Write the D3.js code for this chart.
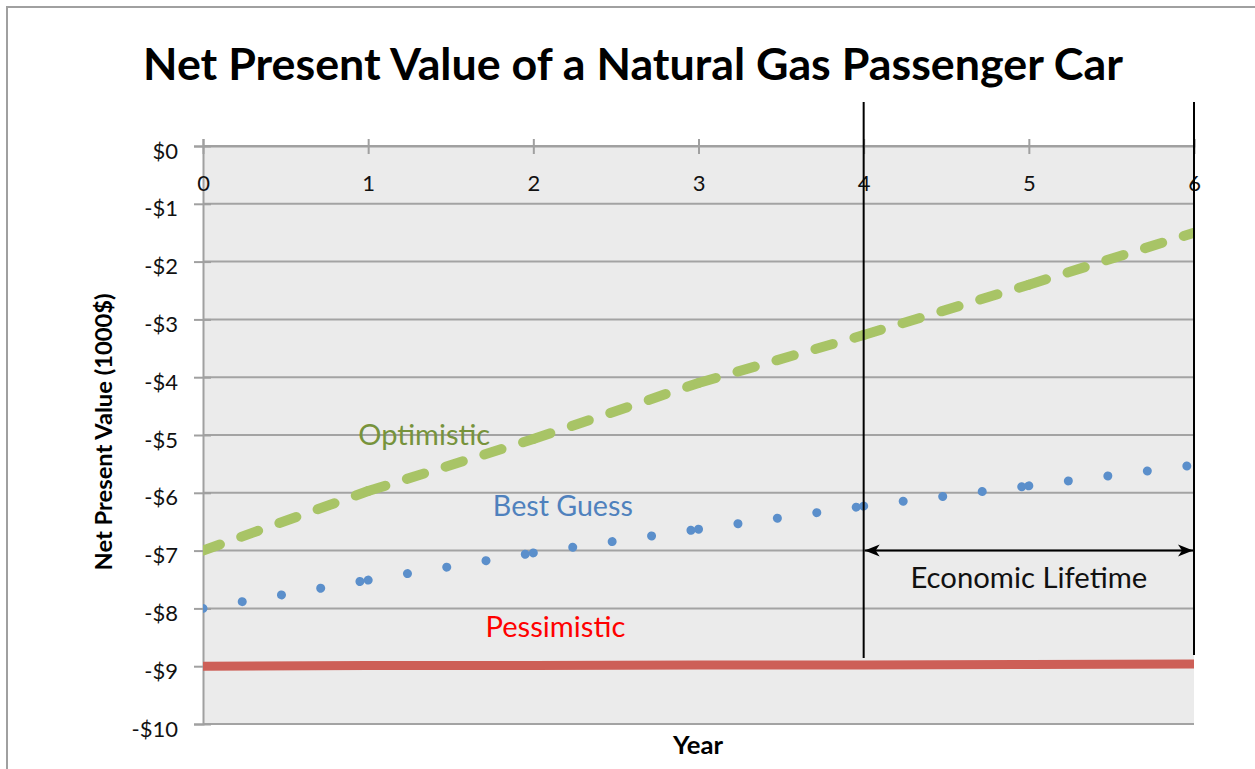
<!DOCTYPE html>
<html>
<head>
<meta charset="utf-8">
<script src="https://cdn.jsdelivr.net/npm/d3@7"></script>
<style>
  body { margin: 0; background: #fff; }
  text { font-family: Lato, "Open Sans", sans-serif; }
</style>
</head>
<body>
<div id="chart"></div>
<script>
//Data
const years = [0, 1, 2, 3, 4, 5, 6];
const optimistic = [-7.0, -5.97, -5.07, -4.1, -3.27, -2.4, -1.5];
const bestGuess = [-8.0, -7.51, -7.04, -6.63, -6.23, -5.88, -5.52];
const pessimistic = [-9.0, -8.99, -8.99, -8.98, -8.98, -8.97, -8.96];
const yTicks = [0, -1, -2, -3, -4, -5, -6, -7, -8, -9, -10];
const lifetime = [4, 6];       // years marked as economic lifetime
const lifetimeLevel = -7;      // value where the arrow sits
const seriesLabels = [
  {name: "Optimistic", year: 0.94, value: -5.17, color: "#77933c", width: 132},
  {name: "Best Guess", year: 1.755, value: -6.41, color: "#4f81bd", width: 140},
  {name: "Pessimistic", year: 1.71, value: -8.5, color: "#ff0000", width: 140}
];

//Layout
let width = 1255, height = 769,
    plot = {left: 203, right: 1194, top: 146, bottom: 724};

let svg = d3.select("#chart").append("svg")
  .attr("width", width)
  .attr("height", height);

//Outer chart border (right and bottom edges fall outside the picture)
svg.append("rect")
  .attr("x", 7).attr("y", 7)
  .attr("width", width).attr("height", height)
  .attr("fill", "none").attr("stroke", "#a0a0a0").attr("stroke-width", 2);

let x = d3.scaleLinear().domain([0, 6]).range([plot.left, plot.right]);
let y = d3.scaleLinear().domain([0, -10]).range([plot.top, plot.bottom]);

//Plot background
svg.append("rect")
  .attr("x", plot.left).attr("y", plot.top)
  .attr("width", plot.right - plot.left).attr("height", plot.bottom - plot.top)
  .attr("fill", "#ebebeb");

svg.append("clipPath").attr("id", "clip")
  .append("rect")
  .attr("x", plot.left).attr("y", plot.top - 10)
  .attr("width", plot.right - plot.left).attr("height", plot.bottom - plot.top + 20);

//Gridlines
svg.append("g").selectAll("line")
  .data(yTicks)
  .enter().append("line")
    .attr("x1", plot.left).attr("x2", plot.right)
    .attr("y1", d => y(d)).attr("y2", d => y(d))
    .attr("stroke", "#a3a3a3").attr("stroke-width", 2);

//Fits a text element to a target width by scaling its font size
function fitText(sel, target) {
  let w = sel.node().getComputedTextLength();
  let fs = parseFloat(sel.attr("font-size"));
  sel.attr("font-size", fs * target / w);
}

//Y axis (cross ticks)
let yAxis = svg.append("g")
  .attr("transform", "translate(" + plot.left + ",0)")
  .call(d3.axisLeft(y).tickValues(yTicks).tickSize(9)
    .tickFormat(d => d === 0 ? "$0" : "-$" + (-d)));
yAxis.select(".domain").attr("stroke", "#a0a0a0").attr("stroke-width", 2);
yAxis.selectAll(".tick line").attr("x1", 8).attr("x2", -9).attr("stroke", "#a0a0a0").attr("stroke-width", 2);
yAxis.selectAll(".tick text")
  .attr("x", -25).attr("dy", "0.55em")
  .attr("font-size", 22).attr("fill", "#111")
  .style("font-family", "Lato, sans-serif");

//X axis along the $0 line, labels below it
let xAxis = svg.append("g")
  .attr("transform", "translate(0," + plot.top + ")")
  .call(d3.axisTop(x).tickValues(years).tickSize(7).tickFormat(d3.format("d")));
xAxis.select(".domain").attr("stroke", "#a0a0a0").attr("stroke-width", 2);
xAxis.selectAll(".tick line").attr("y1", -7).attr("y2", 8).attr("stroke", "#a0a0a0").attr("stroke-width", 2);
xAxis.selectAll(".tick text")
  .attr("y", 37).attr("dy", "0.35em")
  .attr("font-size", 22).attr("fill", "#111")
  .style("font-family", "Lato, sans-serif");

//Series: each yearly segment drawn on its own so the dash pattern restarts at every point
function segments(values) {
  return d3.pairs(years.map((yr, i) => [yr, values[i]]));
}
let line = d3.line().x(d => x(d[0])).y(d => y(d[1]));
let series = svg.append("g").attr("clip-path", "url(#clip)");

series.selectAll(".pess")
  .data([years.map((yr, i) => [yr, pessimistic[i]])])
  .enter().append("path")
    .attr("class", "pess")
    .attr("d", line)
    .attr("fill", "none").attr("stroke", "#cd5f57").attr("stroke-width", 9);

series.selectAll(".best")
  .data(segments(bestGuess))
  .enter().append("path")
    .attr("class", "best")
    .attr("d", line)
    .attr("fill", "none").attr("stroke", "#5b8fcb").attr("stroke-width", 9)
    .attr("stroke-linecap", "round").attr("stroke-dasharray", "0.01 39.8");

series.selectAll(".opt")
  .data(segments(optimistic))
  .enter().append("path")
    .attr("class", "opt")
    .attr("d", line)
    .attr("fill", "none").attr("stroke", "#a8c466").attr("stroke-width", 10)
    .attr("stroke-linecap", "round").attr("stroke-dasharray", "18 22.6");

//Series labels
seriesLabels.forEach(function(l) {
  let t = svg.append("text")
    .attr("x", x(l.year)).attr("y", y(l.value))
    .attr("font-size", 26).attr("fill", l.color)
    .text(l.name);
  fitText(t, l.width);
});

//Economic lifetime markers
svg.selectAll(".life")
  .data(lifetime)
  .enter().append("line")
    .attr("class", "life")
    .attr("x1", d => x(d)).attr("x2", d => x(d))
    .attr("y1", 102).attr("y2", d => d === 6 ? 655 : 658)
    .attr("stroke", "#000").attr("stroke-width", 2);

let defs = svg.append("defs");
["start", "end"].forEach(function(k) {
  defs.append("marker")
    .attr("id", "arrow-" + k)
    .attr("viewBox", "-16 -8 18 16")
    .attr("refX", 0).attr("refY", 0)
    .attr("markerWidth", 18).attr("markerHeight", 16)
    .attr("markerUnits", "userSpaceOnUse")
    .attr("orient", k === "end" ? "auto" : "auto-start-reverse")
    .append("path")
      .attr("d", "M0,0 L-15,-6 L-11,0 L-15,6 Z")
      .attr("fill", "#000");
});

svg.append("line")
  .attr("x1", x(lifetime[0]) + 1).attr("x2", x(lifetime[1]) - 1)
  .attr("y1", y(lifetimeLevel)).attr("y2", y(lifetimeLevel))
  .attr("stroke", "#000").attr("stroke-width", 2)
  .attr("marker-start", "url(#arrow-start)")
  .attr("marker-end", "url(#arrow-end)");

let life = svg.append("text")
  .attr("x", x(d3.mean(lifetime))).attr("y", y(lifetimeLevel) + 37)
  .attr("text-anchor", "middle")
  .attr("font-size", 24).attr("fill", "#111")
  .text("Economic Lifetime");
fitText(life, 237);

//Titles
let title = svg.append("text")
  .attr("x", 633).attr("y", 80)
  .attr("text-anchor", "middle")
  .attr("font-size", 40).attr("font-weight", "bold").attr("fill", "#000")
  .text("Net Present Value of a Natural Gas Passenger Car");
fitText(title, 980);

let yTitle = svg.append("text")
  .attr("transform", "translate(112,432) rotate(-90)")
  .attr("text-anchor", "middle")
  .attr("font-size", 20).attr("font-weight", "bold").attr("fill", "#000")
  .text("Net Present Value (1000$)");
fitText(yTitle, 277);

let xTitle = svg.append("text")
  .attr("x", 698).attr("y", 754)
  .attr("text-anchor", "middle")
  .attr("font-size", 21).attr("font-weight", "bold").attr("fill", "#000")
  .text("Year");
fitText(xTitle, 50);
</script>
</body>
</html>
